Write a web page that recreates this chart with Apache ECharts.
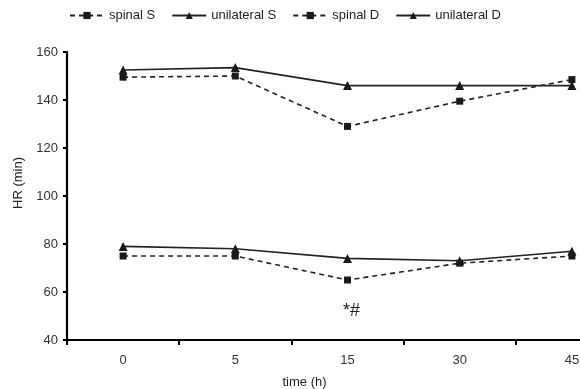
<!DOCTYPE html>
<html><head><meta charset="utf-8">
<script src="https://cdn.jsdelivr.net/npm/echarts@6/dist/echarts.min.js"></script>
<style>html,body{margin:0;padding:0;background:#fff}#c{width:580px;height:389px}</style>
</head><body><div id="c"></div>
<script>
var categories = ['0', '5', '15', '30', '45'];
var spinalS = [149.5, 150, 129, 139.5, 148.5];
var unilateralS = [152.5, 153.5, 146, 146, 146];
var spinalD = [75, 75, 65, 72, 75];
var unilateralD = [79, 78, 74, 73, 77];
var yTicks = { min: 40, max: 160, interval: 20 };
var note = { text: '*#', category: '15', value: 52 };

var chart = echarts.init(document.getElementById('c'));
var font = 'Liberation Sans, Arial, sans-serif';
function mk(name, data, dashed, symbol) {
  return {
    name: name, type: 'line', data: data,
    symbol: symbol, symbolSize: symbol === 'triangle' ? 9 : 7,
    itemStyle: { color: '#1a1a1a' },
    lineStyle: { color: '#222', width: 1.6, type: dashed ? [5, 4] : 'solid' },
    emphasis: { disabled: true }, animation: false
  };
}
var s4 = mk('unilateral D', unilateralD, false, 'triangle');
var s3 = mk('spinal D', spinalD, true, 'rect');
s3.markPoint = {
  symbol: 'circle', symbolSize: 0,
  data: [{ coord: [note.category, note.value], value: note.text }],
  label: { show: true, formatter: note.text, color: '#222', fontSize: 18, fontFamily: font, offset: [4, 0] }
};
chart.setOption({
  backgroundColor: '#fff',
  textStyle: { fontFamily: font },
  legend: {
    top: 4, left: 64, itemWidth: 34, itemHeight: 9, itemGap: 16,
    textStyle: { fontSize: 13, color: '#222', fontFamily: font },
    data: ['spinal S', 'unilateral S', 'spinal D', 'unilateral D']
  },
  grid: { left: 67, top: 52, bottom: 49, right: -48, containLabel: false, outerBoundsMode: 'none' },
  xAxis: {
    type: 'category', data: categories, boundaryGap: true,
    name: 'time (h)', nameLocation: 'middle', nameGap: 36,
    nameTextStyle: { fontSize: 13, color: '#222', padding: [0, 86, 0, 0] },
    axisLine: { lineStyle: { color: '#000', width: 2.2 } },
    axisTick: { show: true, length: 5, lineStyle: { color: '#000', width: 2 } },
    axisLabel: { fontSize: 13, color: '#333', margin: 14 }
  },
  yAxis: {
    type: 'value', min: yTicks.min, max: yTicks.max, interval: yTicks.interval,
    name: 'HR (min)', nameLocation: 'middle', nameGap: 42,
    nameTextStyle: { fontSize: 13, color: '#222', padding: [0, 0, 0, 26] },
    axisLine: { show: true, lineStyle: { color: '#000', width: 2.2 } },
    axisTick: { show: true, length: 4, lineStyle: { color: '#000', width: 2 } },
    axisLabel: { fontSize: 13, color: '#333', margin: 9 },
    splitLine: { show: false }
  },
  series: [
    mk('spinal S', spinalS, true, 'rect'),
    mk('unilateral S', unilateralS, false, 'triangle'),
    s3, s4
  ]
});
</script></body></html>
